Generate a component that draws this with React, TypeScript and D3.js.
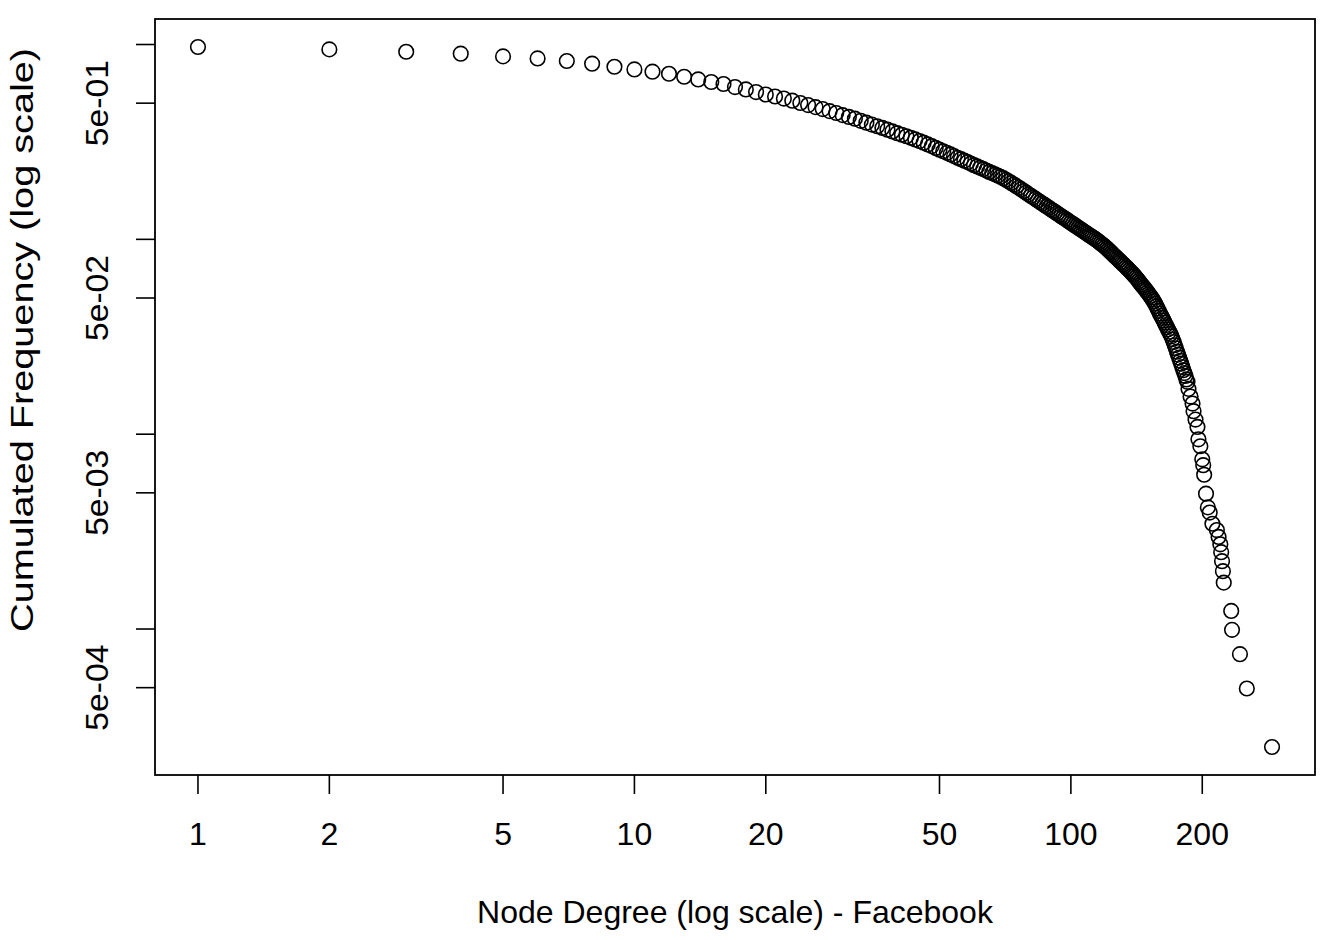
import React from "react";
import * as d3 from "d3";

// node degree (x) and cumulated frequency P(degree >= d) (y)
const degrees = [
  1, 2, 3, 4, 5, 6, 7, 8, 9, 10, 11, 12, 13, 14, 15, 16, 17, 18, 19, 20,
  21, 22, 23, 24, 25, 26, 27, 28, 29, 30, 31, 32, 33, 34, 35, 36, 37, 38, 39, 40,
  41, 42, 43, 44, 45, 46, 47, 48, 49, 50, 51, 52, 53, 54, 55, 56, 57, 58, 59, 60,
  61, 62, 63, 64, 65, 66, 67, 68, 69, 70, 71, 72, 73, 74, 75, 76, 77, 78, 79, 80,
  81, 82, 83, 84, 85, 86, 87, 88, 89, 90, 91, 92, 93, 94, 95, 96, 97, 98, 99, 100,
  101, 102, 103, 104, 105, 106, 107, 108, 109, 110, 111, 112, 113, 114, 115, 116, 117, 118, 119, 120,
  121, 122, 123, 124, 125, 126, 127, 128, 129, 130, 131, 132, 133, 134, 135, 136, 137, 138, 139, 140,
  141, 142, 143, 144, 145, 146, 147, 148, 149, 150, 151, 152, 153, 154, 155, 156, 157, 158, 159, 160,
  161, 162, 163, 164, 165, 166, 167, 168, 169, 170, 171, 172, 173, 174, 175, 176, 177, 178, 179, 180,
  181, 182, 183, 184,
  185, 186, 188, 190, 191, 193, 195, 196, 198, 200, 201, 202, 204, 206, 208, 211,
  216, 218, 220, 221, 222, 223, 224, 233, 234, 244, 253, 289,
];

const cumFreq = [
  0.971, 0.944, 0.918, 0.897, 0.869, 0.848, 0.823, 0.797, 0.769, 0.745,
  0.725, 0.708, 0.683, 0.662, 0.642, 0.627, 0.605, 0.588, 0.57, 0.554,
  0.541, 0.528, 0.515, 0.501, 0.489, 0.477, 0.466, 0.455, 0.445, 0.434,
  0.425, 0.416, 0.406, 0.397, 0.388, 0.3805, 0.373, 0.3655, 0.358, 0.3505,
  0.3443, 0.3381, 0.332, 0.3258, 0.3196, 0.3134, 0.3071, 0.3009, 0.2946, 0.2884,
  0.2832, 0.2779, 0.2727, 0.2674, 0.2622, 0.2578, 0.2534, 0.2491, 0.2447, 0.2403,
  0.2366, 0.2329, 0.2293, 0.2256, 0.2219, 0.2187, 0.2155, 0.2124, 0.2092, 0.206,
  0.2023, 0.1986, 0.1948, 0.1911, 0.1874, 0.1839, 0.1805, 0.177, 0.1736, 0.1701,
  0.1671, 0.1642, 0.1612, 0.1583, 0.1553, 0.1527, 0.1502, 0.1476, 0.1451, 0.1425,
  0.1403, 0.1381, 0.1358, 0.1336, 0.1314, 0.1295, 0.1275, 0.1256, 0.1236, 0.1217,
  0.12, 0.1182, 0.1165, 0.1147, 0.113, 0.1115, 0.1099, 0.1084, 0.1068, 0.1053,
  0.1039, 0.1026, 0.1012, 0.0999, 0.0985, 0.097, 0.0956, 0.0941, 0.0927, 0.0912,
  0.0897, 0.0881, 0.0866, 0.085, 0.0835, 0.0821, 0.0808, 0.0794, 0.0781, 0.0767,
  0.0755, 0.0743, 0.0731, 0.0719, 0.0707, 0.0695, 0.0683, 0.0672, 0.066, 0.0648,
  0.0636, 0.0624, 0.0611, 0.0599, 0.0587, 0.0576, 0.0566, 0.0555, 0.0545, 0.0534,
  0.0523, 0.0512, 0.0502, 0.0491, 0.048, 0.0467, 0.0454, 0.0442, 0.0429, 0.0416,
  0.0405, 0.0395, 0.0384, 0.0374, 0.0363, 0.0354, 0.0345, 0.0336, 0.0327, 0.0318,
  0.0307, 0.0297, 0.0286, 0.0276, 0.0265, 0.0256, 0.0247, 0.0238, 0.023, 0.0221,
  0.0213, 0.0206, 0.0199, 0.0191,
  0.01857, 0.01708, 0.0156, 0.01436, 0.01312, 0.01188, 0.01089, 0.00941,
  0.00867, 0.00743, 0.00693, 0.00619, 0.00495, 0.00421, 0.00396, 0.00347,
  0.00322, 0.00297, 0.00272, 0.00248, 0.00223, 0.00198, 0.00173, 0.001238,
  0.00099, 0.000743, 0.000495, 0.000248,
];

const xTicks = [1, 2, 5, 10, 20, 50, 100, 200];
const yTicks = [1, 0.5, 0.1, 0.05, 0.01, 0.005, 0.001, 0.0005];
const yTickLabels = ["", "5e-01", "", "5e-02", "", "5e-03", "", "5e-04"];

const xTitle = "Node Degree (log scale) - Facebook";
const yTitle = "Cumulated Frequency (log scale)";

const W = 1330;
const H = 940;
const box = { left: 155, right: 1315, top: 19, bottom: 775 };
const font = "'Liberation Sans', Arial, Helvetica, sans-serif";
const fs = 32;

// R style: extend the log range by 4% on each side
function logDomain(vals: number[]): [number, number] {
  const [lo, hi] = d3.extent(vals.map((v) => Math.log10(v))) as [number, number];
  const pad = (hi - lo) * 0.04;
  return [Math.pow(10, lo - pad), Math.pow(10, hi + pad)];
}

const App: React.FC = () => {
  const x = d3.scaleLog().domain(logDomain(degrees)).range([box.left, box.right]);
  const y = d3.scaleLog().domain(logDomain(cumFreq)).range([box.bottom, box.top]);
  const tickLen = 19;

  return (
    <div style={{ position: "absolute", left: 0, top: 0, background: "#fff" }}>
      <svg width={W} height={H} style={{ display: "block" }}>
        <rect x={0} y={0} width={W} height={H} fill="#fff" />

        {degrees.map((d, i) => (
          <circle
            key={i}
            cx={x(d)}
            cy={y(cumFreq[i])}
            r={7.3}
            fill="none"
            stroke="#000"
            strokeWidth={1.6}
          />
        ))}

        <rect
          x={box.left}
          y={box.top}
          width={box.right - box.left}
          height={box.bottom - box.top}
          fill="none"
          stroke="#000"
          strokeWidth={1.8}
        />

        {/* x axis */}
        <g fontFamily={font} fontSize={fs} fill="#000">
          {xTicks.map((t) => (
            <g key={t}>
              <line
                x1={x(t)}
                x2={x(t)}
                y1={box.bottom}
                y2={box.bottom + tickLen}
                stroke="#000"
                strokeWidth={1.6}
              />
              <text x={x(t)} y={845} textAnchor="middle">
                {t}
              </text>
            </g>
          ))}
          <text x={(box.left + box.right) / 2} y={923} textAnchor="middle">
            {xTitle}
          </text>
        </g>

        {/* y axis */}
        <g fontFamily={font} fontSize={fs} fill="#000">
          {yTicks.map((t, i) => (
            <g key={t}>
              <line
                x1={box.left - tickLen}
                x2={box.left}
                y1={y(t)}
                y2={y(t)}
                stroke="#000"
                strokeWidth={1.6}
              />
              {yTickLabels[i] && (
                <text
                  transform={`translate(108,${y(t)}) rotate(-90)`}
                  textAnchor="middle"
                  textLength={86}
                  lengthAdjust="spacingAndGlyphs"
                >
                  {yTickLabels[i]}
                </text>
              )}
            </g>
          ))}
          <text
            transform={`translate(33,340) rotate(-90)`}
            textAnchor="middle"
            textLength={584}
            lengthAdjust="spacingAndGlyphs"
          >
            {yTitle}
          </text>
        </g>
      </svg>
    </div>
  );
};

export default App;
